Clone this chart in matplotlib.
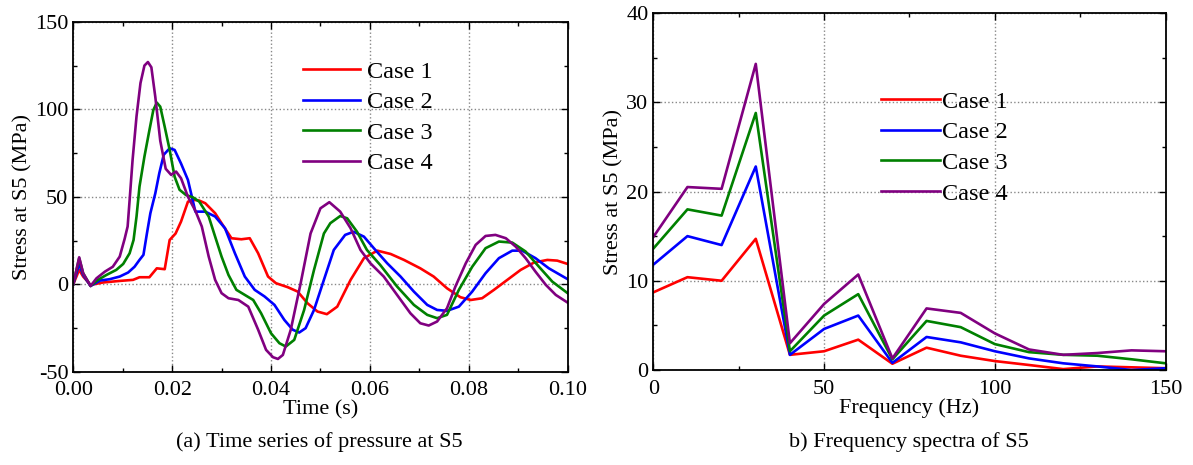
import matplotlib
matplotlib.use("Agg")
import matplotlib.pyplot as plt
from matplotlib.ticker import MultipleLocator

plt.rcParams["font.family"] = ["Liberation Serif", "DejaVu Serif"]
plt.rcParams["axes.unicode_minus"] = False

labels = ["Case 1", "Case 2", "Case 3", "Case 4"]
colors = ["#ff0000", "#0000ff", "#008000", "#800080"]

# (a) time series
t1 = [0, 0.0012, 0.002, 0.0035, 0.006, 0.0094, 0.0121, 0.0134, 0.0154, 0.0169,
      0.0185, 0.0195, 0.0207, 0.0218, 0.0232, 0.0245, 0.0255, 0.0267, 0.0287,
      0.0300, 0.0320, 0.0340, 0.0357, 0.0374, 0.0394, 0.0410, 0.0434, 0.0454,
      0.0474, 0.0494, 0.0513, 0.0534, 0.0561, 0.0588, 0.0615, 0.0642, 0.0669,
      0.0702, 0.0729, 0.0756, 0.0783, 0.0804, 0.0827, 0.0851, 0.0878, 0.0905,
      0.0932, 0.0959, 0.0979, 0.1]
v1 = [0, 8.2, 4.4, -0.4, 1, 1.9, 2.5, 4, 4, 9.1,
      8.6, 25.3, 29, 35.8, 47.2, 48.2, 47.8, 46.3, 40.6,
      34.9, 26.3, 25.7, 26.3, 17.7, 4.4, 0.6, -1.7, -4.2,
      -10.9, -15.6, -17.1, -12.8, 2.5, 14.9, 19.2, 17.3, 13.9,
      9.1, 4.4, -2.3, -7.4, -9, -8, -3.2, 2.5, 8.2,
      12.4, 13.9, 13.5, 11.6]

t2 = [0, 0.0012, 0.002, 0.0035, 0.0054, 0.0074, 0.0094, 0.0111, 0.0124, 0.0134,
      0.0142, 0.0149, 0.0156, 0.0166, 0.0174, 0.0183, 0.0195, 0.0205, 0.0218,
      0.0232, 0.0247, 0.0267, 0.0287, 0.0307, 0.0327, 0.0347, 0.0367, 0.0387,
      0.0407, 0.0427, 0.0444, 0.0457, 0.0470, 0.0487, 0.0507, 0.0527, 0.0550,
      0.0567, 0.0588, 0.0608, 0.0635, 0.0662, 0.0689, 0.0716, 0.0736, 0.0756,
      0.0780, 0.0807, 0.0834, 0.0861, 0.0888, 0.0908, 0.0935, 0.0962, 0.1]
v2 = [0, 11.6, 5.3, -1, 2.1, 2.9, 4.4, 6.7, 10, 13.9,
      16.8, 29, 40.6, 52, 63.4, 74, 77.7, 76.8, 69,
      59.6, 41.5, 41.5, 38.7, 32, 17.7, 4.4, -3.2, -7,
      -11.8, -20.4, -26, -27.6, -25.1, -14.7, 2.5, 19.6, 28.2,
      30, 27.2, 20.6, 12, 4.4, -4.2, -11.8, -14.7, -15.2,
      -12.8, -4.2, 6.3, 14.9, 19.2, 19.2, 14.9, 9.1, 2.9]

t3 = [0, 0.0012, 0.002, 0.0035, 0.005, 0.0067, 0.0087, 0.0101, 0.0114, 0.0122,
      0.0128, 0.0134, 0.0144, 0.0154, 0.0162, 0.0169, 0.0176, 0.0185, 0.0195,
      0.0205, 0.0215, 0.0228, 0.0242, 0.0255, 0.0274, 0.0287, 0.0300, 0.0314,
      0.0330, 0.0347, 0.0364, 0.0380, 0.0400, 0.0417, 0.0430, 0.0447, 0.0467,
      0.0487, 0.0507, 0.0520, 0.0540, 0.0554, 0.0574, 0.0594, 0.0621, 0.0655,
      0.0689, 0.0716, 0.0736, 0.0756, 0.0780, 0.0807, 0.0834, 0.0861, 0.0888,
      0.0915, 0.0942, 0.0969, 0.1]
v3 = [0, 14.9, 6.3, -1, 2.5, 5.3, 8.2, 11.6, 17.7, 25.3,
      38.7, 55.8, 73, 88, 99.6, 103.8, 101.5, 90, 76.8,
      61.5, 54, 51, 49.7, 47.2, 38.7, 27.2, 15.8, 5.3,
      -3.2, -6.1, -9, -16.6, -28, -33.7, -35.6, -31.8, -14.7,
      8.2, 29, 34.9, 39, 37.7, 30, 19.6, 11, -1.3,
      -11.8, -17.5, -19.4, -17.5, -3.2, 10, 20.6, 24.4, 23.8,
      18.7, 10, 1.5, -5.1]

t4 = [0, 0.0012, 0.002, 0.0035, 0.0047, 0.0064, 0.008, 0.0094, 0.0104, 0.011,
      0.0114, 0.012, 0.0128, 0.0136, 0.0144, 0.0151, 0.0158, 0.0166, 0.0176,
      0.0187, 0.0198, 0.0208, 0.0218, 0.0232, 0.0247, 0.0260, 0.0274, 0.0287,
      0.0300, 0.0314, 0.0334, 0.0354, 0.0374, 0.0390, 0.0404, 0.0414, 0.0424,
      0.0440, 0.0460, 0.0480, 0.0500, 0.0518, 0.0540, 0.0561, 0.0581, 0.0601,
      0.0628, 0.0655, 0.0682, 0.0702, 0.0719, 0.0736, 0.0756, 0.0773, 0.0794,
      0.0814, 0.0834, 0.0854, 0.0875, 0.0895, 0.0915, 0.0935, 0.0956, 0.0976, 0.1]
v4 = [0, 15.4, 6.3, -1, 3.4, 7.2, 10, 15.8, 26, 33,
      48, 71, 96, 115, 125, 127, 124, 107, 82,
      66, 62.5, 64.4, 60.6, 50, 42, 33, 15.8, 2.5,
      -5.1, -8, -9, -12.8, -26, -37.5, -41.7, -42.7, -40.4,
      -26, 0.6, 29, 43.4, 46.9, 41.5, 32, 19.6, 12,
      4.4, -6.1, -16.6, -22.3, -23.6, -21.3, -13.7, -1.3, 12,
      22.5, 27.6, 28.2, 26.3, 21.5, 14.9, 7.2, -0.4, -6.1, -10.5]

# (b) frequency spectra
freq = [0, 10, 20, 30, 40, 50, 60, 70, 80, 90, 100, 110, 120, 130, 140, 150]
s1 = [8.7, 10.4, 10.0, 14.7, 1.7, 2.1, 3.4, 0.7, 2.5, 1.6, 1.0, 0.56, 0.1, 0.4, 0.3, 0.2]
s2 = [11.8, 15.0, 14.0, 22.8, 1.7, 4.6, 6.1, 0.8, 3.7, 3.1, 2.1, 1.3, 0.75, 0.4, 0.0, 0.2]
s3 = [13.6, 18.0, 17.3, 28.8, 2.1, 6.1, 8.5, 1.2, 5.5, 4.8, 2.9, 2.0, 1.7, 1.6, 1.2, 0.75]
s4 = [14.9, 20.5, 20.3, 34.3, 3.0, 7.4, 10.7, 1.3, 6.9, 6.4, 4.1, 2.3, 1.7, 1.9, 2.2, 2.1]

FS = 16
LFS = 17.5

fig = plt.figure(figsize=(11.93, 4.65), dpi=100)
ax1 = fig.add_axes([0.0614, 0.2006, 0.4144, 0.7525])
ax2 = fig.add_axes([0.5476, 0.2043, 0.4295, 0.7677])


def style(ax):
    ax.tick_params(which="both", direction="in", top=True, right=True,
                   labelsize=FS, width=1)
    ax.tick_params(which="major", length=5)
    ax.tick_params(which="minor", length=3)
    ax.tick_params(axis="x", pad=7)
    ax.grid(True, which="major", color="#888888", linestyle=":", linewidth=1)
    for s in ax.spines.values():
        s.set_linewidth(1.3)


for t, v, lab, c in zip([t1, t2, t3, t4], [v1, v2, v3, v4], labels, colors):
    ax1.plot(t, v, color=c, lw=1.9, label=lab)
ax1.set_xlim(0, 0.1)
ax1.set_ylim(-50, 150)
ax1.xaxis.set_major_locator(MultipleLocator(0.02))
ax1.xaxis.set_minor_locator(MultipleLocator(0.01))
ax1.yaxis.set_major_locator(MultipleLocator(50))
ax1.yaxis.set_minor_locator(MultipleLocator(25))
ax1.set_xticklabels([f"{x:.2f}" for x in ax1.get_xticks()])
style(ax1)
ax1.set_xlabel("Time (s)", fontsize=FS, labelpad=0)
ax1.set_ylabel("Stress at S5 (MPa)", fontsize=FS, labelpad=2)
ax1.legend(loc="upper left", bbox_to_anchor=(0.42, 0.951), frameon=False,
           fontsize=LFS, handlelength=2.35, handletextpad=0.3, labelspacing=0.35)

for s, lab, c in zip([s1, s2, s3, s4], labels, colors):
    ax2.plot(freq, s, color=c, lw=1.9, label=lab)
ax2.set_xlim(0, 150)
ax2.set_ylim(0, 40)
ax2.xaxis.set_major_locator(MultipleLocator(50))
ax2.xaxis.set_minor_locator(MultipleLocator(25))
ax2.yaxis.set_major_locator(MultipleLocator(10))
ax2.yaxis.set_minor_locator(MultipleLocator(5))
style(ax2)
ax2.set_xlabel("Frequency (Hz)", fontsize=FS, labelpad=0)
ax2.set_ylabel("Stress at S5 (MPa)", fontsize=FS, labelpad=2)
ax2.legend(loc="upper left", bbox_to_anchor=(0.401, 0.843), frameon=False,
           fontsize=LFS, handlelength=2.43, handletextpad=0.08, labelspacing=0.35)

fig.text(0.268, 0.05, "(a) Time series of pressure at S5", fontsize=FS,
         ha="center", va="center")
fig.text(0.762, 0.05, "b) Frequency spectra of S5", fontsize=FS,
         ha="center", va="center")

fig.savefig("out.png", dpi=100)
